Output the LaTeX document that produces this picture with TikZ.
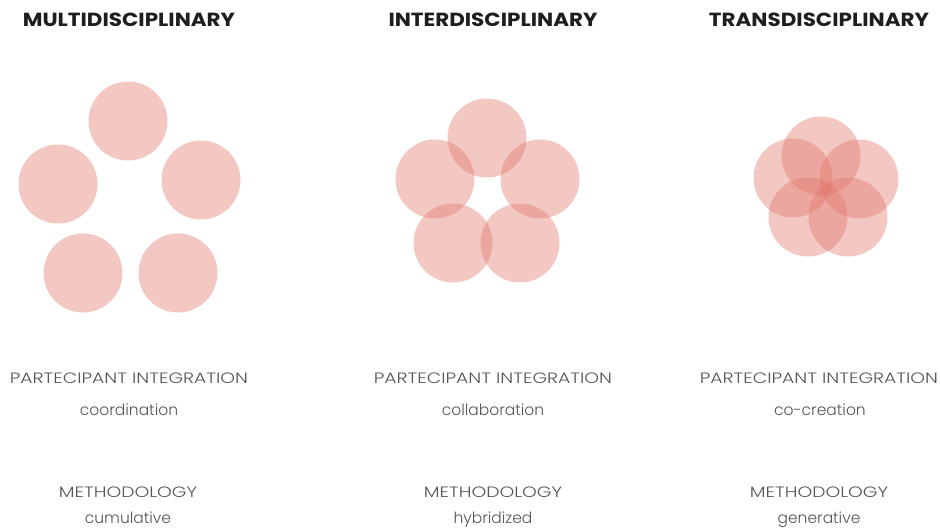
\documentclass[tikz,border=0pt]{standalone}
\usepackage{fontspec}
\setmainfont{Poppins}
\newfontfamily\titlefont{Poppins}[UprightFont=* Bold, FakeStretch=1.13]
\newfontfamily\lightfont{Poppins}[UprightFont=* Light, FakeStretch=1.25]
\newfontfamily\lowfont{Poppins}[UprightFont=* Light]
\definecolor{pinkc}{RGB}{225,118,105}
\definecolor{titlec}{RGB}{30,30,30}
\definecolor{bodyc}{RGB}{85,85,85}
\tikzset{
  blob/.style={circle, minimum size=79pt, inner sep=0pt, fill=pinkc, fill opacity=0.4, draw=none},
  titletext/.style={anchor=base, text=titlec, font=\titlefont\fontsize{19}{22}\selectfont},
  captext/.style={anchor=base, text=bodyc, font=\lightfont\fontsize{15}{18}\selectfont},
  lowtext/.style={anchor=base, text=bodyc, font=\lowfont\fontsize{15.5}{18}\selectfont}
}
\begin{document}
\begin{tikzpicture}[x=1pt,y=-1pt]
\useasboundingbox[fill=white] (0,0) rectangle (940,529);
% titles
\node[titletext] (t1) at (129,27) {MULTIDISCIPLINARY};
\node[titletext] (t2) at (493,27) {INTERDISCIPLINARY};
\node[titletext] (t3) at (819,27) {TRANSDISCIPLINARY};
% multidisciplinary circles
\node[blob] (m1) at (128,121) {};
\node[blob] (m2) at (58,184) {};
\node[blob] (m3) at (201,180) {};
\node[blob] (m4) at (83,273) {};
\node[blob] (m5) at (178,273) {};
% interdisciplinary circles
\node[blob] (i1) at (487,138) {};
\node[blob] (i2) at (435,179) {};
\node[blob] (i3) at (540,179) {};
\node[blob] (i4) at (453,243) {};
\node[blob] (i5) at (520,243) {};
% transdisciplinary circles
\node[blob] (r1) at (821,156) {};
\node[blob] (r2) at (793,178) {};
\node[blob] (r3) at (859,179) {};
\node[blob] (r4) at (808,217) {};
\node[blob] (r5) at (848,217) {};
% captions
\node[captext] (p1) at (129,383) {PARTECIPANT INTEGRATION};
\node[captext] (p2) at (493,383) {PARTECIPANT INTEGRATION};
\node[captext] (p3) at (819,383) {PARTECIPANT INTEGRATION};
\node[lowtext] (v1) at (129,415) {coordination};
\node[lowtext] (v2) at (493,415) {collaboration};
\node[lowtext] (v3) at (820,415) {co-creation};
\node[captext] (h1) at (128,497) {METHODOLOGY};
\node[captext] (h2) at (493,497) {METHODOLOGY};
\node[captext] (h3) at (819,497) {METHODOLOGY};
\node[lowtext] (w1) at (128,523) {cumulative};
\node[lowtext] (w2) at (493,523) {hybridized};
\node[lowtext] (w3) at (819,523) {generative};
\end{tikzpicture}
\end{document}
